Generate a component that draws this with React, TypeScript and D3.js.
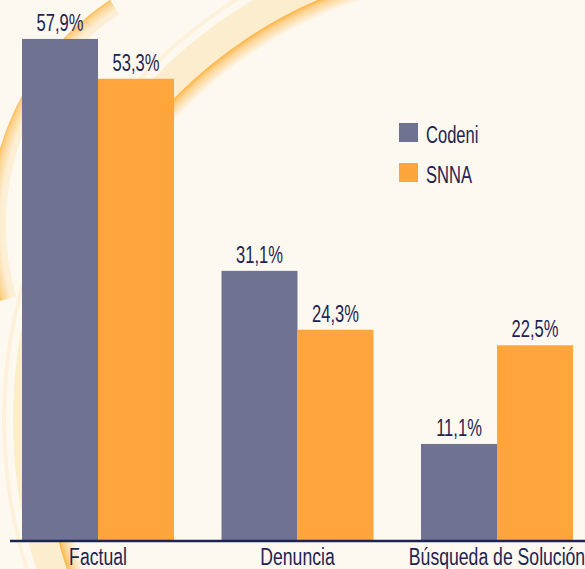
import React from "react";
import * as d3 from "d3";

const categories = ["Factual", "Denuncia", "Búsqueda de Solución"];
const seriesNames = ["Codeni", "SNNA"];
const codeniValues = [57.9, 31.1, 11.1];
const snnaValues = [53.3, 24.3, 22.5];
const valueLabels = [
  ["57,9%", "53,3%"],
  ["31,1%", "24,3%"],
  ["11,1%", "22,5%"],
];

const W = 585;
const H = 569;
const COLORS = ["#6f7391", "#fea53b"];
const TEXT = "#1c2452";
const FONT = "'Liberation Sans', Arial, sans-serif";

function wedge(cx: number, cy: number, R: number, a0: number, a1: number) {
  const n = 40;
  const pts: [number, number][] = [[cx, cy]];
  for (let i = 0; i <= n; i++) {
    const a = a0 + ((a1 - a0) * i) / n;
    pts.push([cx + R * Math.cos(a), cy + R * Math.sin(a)]);
  }
  return d3.line()(pts) + "Z";
}

export default function App() {
  const x0 = d3.scaleBand<string>().domain(categories).range([22, 573]).paddingInner(0.238).paddingOuter(0);
  const x1 = d3.scaleBand<string>().domain(seriesNames).range([0, x0.bandwidth()]).padding(0);
  const y = d3.scaleLinear().domain([0, 62.4]).range([540, 0]);

  const rows = categories.map((c, i) => ({ c, vals: [codeniValues[i], snnaValues[i]], labels: valueLabels[i] }));

  const ctext = (x: number, yy: number, s: string, anchor: string, sx: number, fs: number) => (
    <text
      transform={`translate(${x},${yy}) scale(${sx},1)`}
      textAnchor={anchor}
      fontFamily={FONT}
      fontSize={fs}
      fill={TEXT}
    >
      {s}
    </text>
  );

  const bcx = 259, bcy = 225;
  const bA0 = Math.atan2(301 - bcy, 0 - bcx);
  const bA1 = Math.atan2(0 - bcy, 110 - bcx) + 2 * Math.PI;

  return (
    <svg width={W} height={H} style={{ position: "absolute", left: 0, top: 0, display: "block" }}>
      <defs>
        <radialGradient id="glowA" gradientUnits="userSpaceOnUse" cx={500} cy={420} r={458}>
          <stop offset="0.965" stopColor="#fbb23c" stopOpacity={0} />
          <stop offset="0.99" stopColor="#fbb23c" stopOpacity={0.55} />
          <stop offset="1" stopColor="#fbb23c" stopOpacity={0.95} />
        </radialGradient>
        <radialGradient id="glowB" gradientUnits="userSpaceOnUse" cx={bcx} cy={bcy} r={270}>
          <stop offset="0.955" stopColor="#fbb23c" stopOpacity={0} />
          <stop offset="0.99" stopColor="#fbb23c" stopOpacity={0.5} />
          <stop offset="1" stopColor="#fbb23c" stopOpacity={0.85} />
        </radialGradient>
        <clipPath id="clipB">
          <path d={wedge(bcx, bcy, 400, bA0, bA1)} />
        </clipPath>
      </defs>
      <rect x={0} y={0} width={W} height={H} fill="#fef9f0" />
      {/* decorative arcs */}
      <g clipPath="url(#clipB)">
        <circle cx={bcx} cy={bcy} r={261} fill="none" stroke="#fdefd6" strokeWidth={16} />
        <circle cx={bcx} cy={bcy} r={270} fill="url(#glowB)" />
      </g>
      <circle cx={500} cy={420} r={472} fill="none" stroke="#fdedcf" strokeWidth={30} />
      <circle cx={500} cy={420} r={496} fill="none" stroke="#fdf1dc" strokeWidth={4} />
      <circle cx={500} cy={420} r={458} fill="url(#glowA)" />

      {rows.map((r) => (
        <g key={r.c} transform={`translate(${x0(r.c)},0)`}>
          {r.vals.map((v, j) => (
            <rect
              key={j}
              x={x1(seriesNames[j])}
              y={y(v)}
              width={x1.bandwidth()}
              height={540 - y(v)}
              fill={COLORS[j]}
            />
          ))}
          {r.vals.map((v, j) => (
            <g key={"l" + j}>
              {ctext((x1(seriesNames[j]) as number) + x1.bandwidth() / 2, y(v) - 8, r.labels[j], "middle", 0.69, 24)}
            </g>
          ))}
        </g>
      ))}

      <line x1={10} x2={W} y1={541} y2={541} stroke={TEXT} strokeWidth={2.4} />

      {categories.map((c) => (
        <g key={c}>{ctext((x0(c) as number) + x0.bandwidth() / 2, 565, c, "middle", 0.75, 23.5)}</g>
      ))}

      {seriesNames.map((s, j) => (
        <g key={s}>
          <rect x={399} y={123 + j * 40} width={19} height={19} fill={COLORS[j]} />
          {ctext(426, 143 + j * 40, s, "start", 0.69, 24)}
        </g>
      ))}
    </svg>
  );
}
